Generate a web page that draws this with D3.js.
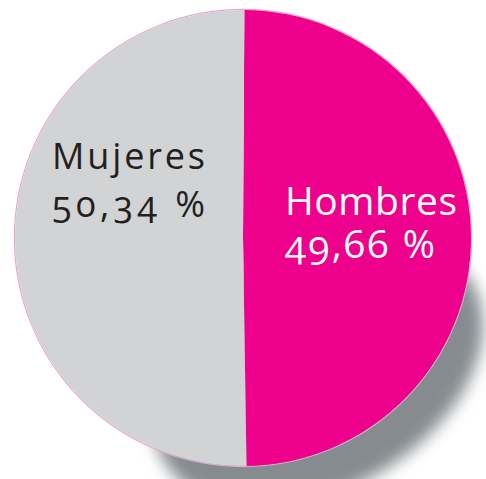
<!DOCTYPE html>
<html>
<head>
<meta charset="utf-8">
<script src="https://cdn.jsdelivr.net/npm/d3@7"></script>
<style>
  html, body { margin: 0; padding: 0; background: #fff; }
  svg { display: block; }
</style>
</head>
<body>
<script>
// data
const categories = ["Hombres", "Mujeres"];
const values = [49.66, 50.34];
const valueLabels = ["49,66 %", "50,34 %"];

const W = 486, H = 479;
const cx = 243, cy = 238, R = 228;
const colors = { Hombres: "#ec008c", Mujeres: "#d1d3d4" };

const svg = d3.select("body").append("svg")
  .attr("width", W)
  .attr("height", H);

// soft shadow under the pie
const defs = svg.append("defs");
defs.append("filter")
  .attr("id", "blur")
  .attr("x", "-30%").attr("y", "-30%")
  .attr("width", "160%").attr("height", "160%")
  .append("feGaussianBlur")
  .attr("stdDeviation", 8);

svg.append("ellipse")
  .attr("cx", 318)
  .attr("cy", 372)
  .attr("rx", 178)
  .attr("ry", 118)
  .attr("transform", "rotate(-30 318 372)")
  .attr("fill", "#858b8f")
  .attr("filter", "url(#blur)");

const pie = d3.pie()
  .sort(null)
  .value(d => d.value)
  .startAngle(0.006)
  .endAngle(0.006 + 2 * Math.PI);

const rows = categories.map((c, i) => ({ name: c, value: values[i], label: valueLabels[i] }));
const arcs = pie(rows);
const arc = d3.arc().innerRadius(0).outerRadius(R);

const g = svg.append("g").attr("transform", `translate(${cx},${cy})`);

g.append("circle")
  .attr("r", R + 0.6)
  .attr("fill", "none")
  .attr("stroke", "#e8a6cf")
  .attr("stroke-width", 1.2);

g.selectAll("path.slice")
  .data(arcs)
  .join("path")
  .attr("class", "slice")
  .attr("d", arc)
  .attr("fill", d => colors[d.data.name]);

// labels
const labelPos = {
  Hombres: { x: 285, y: 215, size: 39, fill: "#ffffff", gap: 43, w: 172, w2: 150 },
  Mujeres: { x: 52, y: 169, size: 36, fill: "#231f20", gap: 48, w: 153, w2: 153 }
};

arcs.forEach(d => {
  const p = labelPos[d.data.name];
  const t = svg.append("text")
    .attr("x", p.x)
    .attr("y", p.y)
    .attr("fill", p.fill)
    .style("font-family", "'Open Sans', sans-serif")
    .style("font-size", p.size + "px")
    .style("font-feature-settings", "'onum' 1");
  t.append("tspan").attr("x", p.x)
    .attr("textLength", p.w).attr("lengthAdjust", "spacing")
    .text(d.data.name);
  t.append("tspan").attr("x", p.x).attr("dy", p.gap)
    .attr("textLength", p.w2).attr("lengthAdjust", "spacing")
    .text(d.data.label);
});
</script>
</body>
</html>
